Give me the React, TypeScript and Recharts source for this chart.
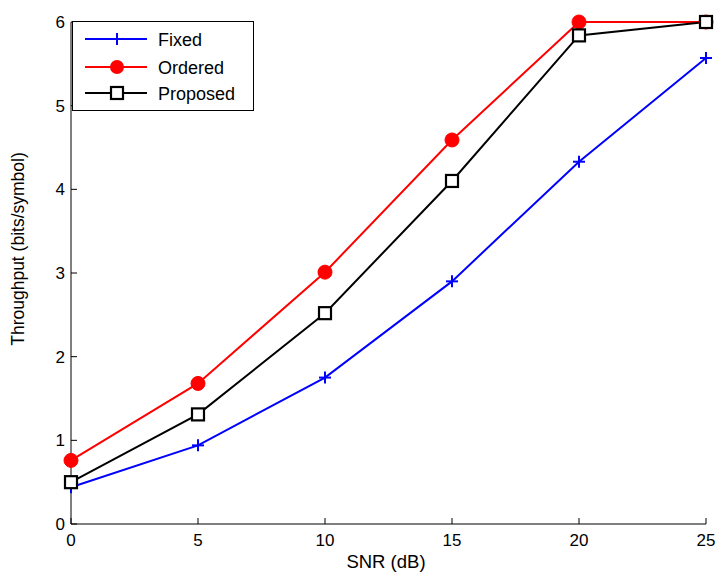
import React from "react";
import { LineChart, Line, XAxis, YAxis } from "recharts";

const snr = [0, 5, 10, 15, 20, 25];
const fixed = [0.44, 0.94, 1.75, 2.9, 4.33, 5.57];
const ordered = [0.76, 1.68, 3.01, 4.59, 6.0, 6.0];
const proposed = [0.5, 1.31, 2.52, 4.1, 5.84, 6.0];
const xTicks = [0, 5, 10, 15, 20, 25];
const yTicks = [0, 1, 2, 3, 4, 5, 6];

const data = snr.map((s, i) => ({ snr: s, fixed: fixed[i], ordered: ordered[i], proposed: proposed[i] }));

const FONT = "Liberation Sans, Arial, Helvetica, sans-serif";
const TM = 8;

const PlusDot = (props: any) => {
  const { cx, cy } = props;
  if (cx == null || cy == null) return null;
  return (
    <g>
      <line x1={cx - 6} y1={cy} x2={cx + 6} y2={cy} stroke="#0000ff" strokeWidth={2} />
      <line x1={cx} y1={cy - 6} x2={cx} y2={cy + 6} stroke="#0000ff" strokeWidth={2} />
    </g>
  );
};
const CircleDot = (props: any) => {
  const { cx, cy } = props;
  if (cx == null || cy == null) return null;
  return <circle cx={cx} cy={cy} r={7} fill="#ff0000" stroke="#ff0000" />;
};
const SquareDot = (props: any) => {
  const { cx, cy } = props;
  if (cx == null || cy == null) return null;
  return <rect x={cx - 6} y={cy - 6} width={12} height={12} fill="#ffffff" stroke="#000000" strokeWidth={2.2} />;
};

const XTick = (props: any) => {
  const { x, y, payload } = props;
  const ay = y - TM;
  return (
    <g>
      <line x1={x} y1={ay} x2={x} y2={ay - 6} stroke="#000" strokeWidth={1} />
      <text x={x} y={ay + 22} textAnchor="middle" fontSize={17} fontFamily={FONT} fill="#000">
        {payload.value}
      </text>
    </g>
  );
};
const YTick = (props: any) => {
  const { x, y, payload } = props;
  const ax = x + TM;
  return (
    <g>
      <line x1={ax} y1={y} x2={ax + 6} y2={y} stroke="#000" strokeWidth={1} />
      <text x={ax - 6} y={y + 6} textAnchor="end" fontSize={17} fontFamily={FONT} fill="#000">
        {payload.value}
      </text>
    </g>
  );
};

const legendItems = [
  { name: "Fixed", color: "#0000ff", kind: "plus" },
  { name: "Ordered", color: "#ff0000", kind: "circle" },
  { name: "Proposed", color: "#000000", kind: "square" },
];
const legendRows = [18, 46, 72];

const LegendBox = () => (
  <svg width={182} height={90} style={{ display: "block" }}>
    <rect x={0.5} y={0.5} width={181} height={89} fill="#fff" stroke="#000" strokeWidth={1} />
    {legendItems.map((it, i) => {
      const cy = legendRows[i];
      return (
        <g key={it.name}>
          <line x1={13} y1={cy} x2={75} y2={cy} stroke={it.color} strokeWidth={2} />
          {it.kind === "plus" && (
            <g>
              <line x1={39} y1={cy} x2={51} y2={cy} stroke={it.color} strokeWidth={2} />
              <line x1={45} y1={cy - 6} x2={45} y2={cy + 6} stroke={it.color} strokeWidth={2} />
            </g>
          )}
          {it.kind === "circle" && <circle cx={45} cy={cy} r={7} fill={it.color} />}
          {it.kind === "square" && (
            <rect x={39} y={cy - 6} width={12} height={12} fill="#fff" stroke="#000" strokeWidth={2.2} />
          )}
          <text x={86} y={cy + 6.5} fontSize={18} fontFamily={FONT} fill="#000">
            {it.name}
          </text>
        </g>
      );
    })}
  </svg>
);

export default function App() {
  return (
    <div style={{ position: "relative", width: 709, height: 567 }}>
      <style>{`html, body { overflow: hidden; } body { margin: 8px 0 0 8px; } .recharts-surface, .recharts-wrapper { overflow: visible !important; }`}</style>
      <LineChart
        width={709}
        height={567}
        data={data}
        margin={{ top: 14, right: 11, bottom: 21, left: 0 }}
      >
        <XAxis
          dataKey="snr"
          type="number"
          domain={[0, 25]}
          ticks={xTicks}
          height={30}
          tickSize={0}
          tickMargin={TM}
          tick={<XTick />}
          axisLine={{ stroke: "#000", strokeWidth: 1 }}
          tickLine={false}
          interval={0}
        />
        <YAxis
          type="number"
          domain={[0, 6]}
          ticks={yTicks}
          width={63}
          tickSize={0}
          tickMargin={TM}
          tick={<YTick />}
          axisLine={{ stroke: "#000", strokeWidth: 1 }}
          tickLine={false}
          interval={0}
        />
        <Line dataKey="fixed" name="Fixed" stroke="#0000ff" strokeWidth={2} dot={<PlusDot />} isAnimationActive={false} />
        <Line dataKey="ordered" name="Ordered" stroke="#ff0000" strokeWidth={2} dot={<CircleDot />} isAnimationActive={false} />
        <Line dataKey="proposed" name="Proposed" stroke="#000000" strokeWidth={2} dot={<SquareDot />} isAnimationActive={false} />
      </LineChart>
      <div style={{ position: "absolute", left: 64, top: 13, pointerEvents: "none" }}>
        <LegendBox />
      </div>
      <svg
        width={709}
        height={567}
        style={{ position: "absolute", left: 0, top: 0, pointerEvents: "none", overflow: "visible" }}
      >
        <text x={378} y={560} textAnchor="middle" fontSize={18.5} fontFamily={FONT} fill="#000">
          SNR (dB)
        </text>
        <text
          x={0}
          y={0}
          transform="translate(16,241) rotate(-90)"
          textAnchor="middle"
          fontSize={17.5}
          fontFamily={FONT}
          fill="#000"
        >
          Throughput (bits/symbol)
        </text>
      </svg>
    </div>
  );
}
